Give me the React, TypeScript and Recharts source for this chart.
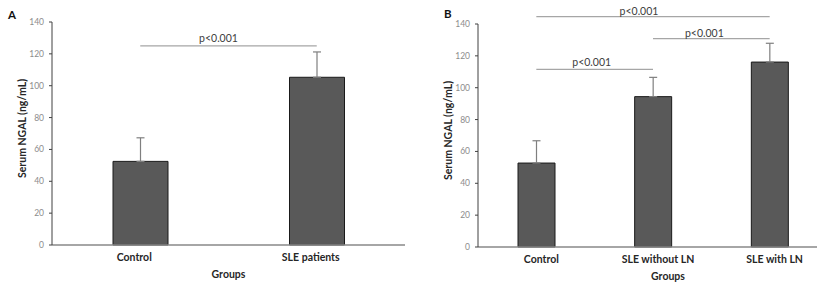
import React from 'react';
import { BarChart, Bar, XAxis, YAxis, ErrorBar, ReferenceLine } from 'recharts';

// ---- Data ----
const groupsA = ['Control', 'SLE patients'];
const meansA = [52.5, 105.3];
const errA = [14.8, 15.9];

const groupsB = ['Control', 'SLE without LN', 'SLE with LN'];
const meansB = [52.7, 94.4, 116.1];
const errB = [14.0, 12.1, 11.8];

const yTicks = [0, 20, 40, 60, 80, 100, 120, 140];

const sigA = [{ from: 'Control', to: 'SLE patients', y: 125, label: 'p<0.001' }];
const sigB = [
  { from: 'Control', to: 'SLE with LN', y: 144.6, label: 'p<0.001' },
  { from: 'SLE without LN', to: 'SLE with LN', y: 130.8, label: 'p<0.001' },
  { from: 'Control', to: 'SLE without LN', y: 111.5, label: 'p<0.001' },
];

const yTitle = 'Serum NGAL (ng/mL)';
const xTitle = 'Groups';

const dataA = groupsA.map((g, i) => ({ group: g, mean: meansA[i], err: [0, errA[i]] }));
const dataB = groupsB.map((g, i) => ({ group: g, mean: meansB[i], err: [0, errB[i]] }));

const FONT = 'Lato, "Liberation Sans", sans-serif';

function YTitle(props: any) {
  const vb = props.viewBox || {};
  const cx = vb.x + 10;
  const cy = vb.y + vb.height / 2 - 5;
  return (
    <text x={cx} y={cy} transform={`rotate(-90 ${cx} ${cy})`} textAnchor="middle" dominantBaseline="central"
      fontFamily={FONT} fontWeight="bold" fontSize={10.5} fill="#262626">{yTitle}</text>
  );
}

function XTitle(props: any) {
  const vb = props.viewBox || {};
  const cx = vb.x + vb.width / 2 + (props.dx || 0);
  const cy = vb.y + 29;
  return (
    <text x={cx} y={cy} textAnchor="middle" dominantBaseline="central"
      fontFamily={FONT} fontWeight="bold" fontSize={10.5} fill="#262626">{xTitle}</text>
  );
}

function PLabel(props: any) {
  const vb = props.viewBox || {};
  const cx = vb.x + vb.width / 2 + (props.shift || 0);
  const cy = vb.y - (props.gap || 6);
  return (
    <text x={cx} y={cy} textAnchor="middle" dominantBaseline="central"
      fontFamily={FONT} fontSize={10.5} fill="#404040">{props.text}</text>
  );
}

const sigStyleA = [{ gap: 8, shift: -10 }];
const sigStyleB = [{ gap: 5.7, shift: -14 }, { gap: 5.4, shift: -7 }, { gap: 7, shift: -3 }];

export default function App() {
  return (
    <div style={{ position: 'absolute', left: 0, top: 0, width: 817, height: 282, overflow: 'hidden', background: '#fff' }}>
      <div style={{ position: 'absolute', left: 8, top: 8, fontFamily: FONT, fontWeight: 'bold', fontSize: 11.5, color: '#111' }}>A</div>
      <div style={{ position: 'absolute', left: 444, top: 7, fontFamily: FONT, fontWeight: 'bold', fontSize: 11.5, color: '#111' }}>B</div>

      <div style={{ position: 'absolute', left: 0, top: 0 }}>
        <BarChart width={410} height={282} data={dataA} margin={{ top: 22, right: 5, bottom: 0, left: 12 }}>
          <XAxis dataKey="group" height={37} tickLine={false} tickSize={0} tickMargin={9}
            axisLine={{ stroke: '#888', strokeWidth: 1.5 }}
            tick={{ fontFamily: FONT, fontWeight: 'bold', fontSize: 10.5, fill: '#262626', dx: -6 }}
            label={<XTitle dx={0} />} />
          <YAxis width={40} domain={[0, 140]} ticks={yTicks} tickSize={3} tickMargin={5}
            axisLine={{ stroke: '#404040' }} tickLine={{ stroke: '#404040' }}
            tick={{ fontFamily: FONT, fontSize: 8.5, fill: '#8c8c8c' }}
            label={<YTitle />} />
          {sigA.map((s, i) => (
            <ReferenceLine key={i} segment={[{ x: s.from, y: s.y }, { x: s.to, y: s.y }]}
              stroke="#a6a6a6" strokeWidth={1.2} ifOverflow="visible"
              label={<PLabel text={s.label} gap={sigStyleA[i].gap} shift={sigStyleA[i].shift} />} />
          ))}
          <Bar dataKey="mean" fill="#595959" stroke="#1a1a1a" strokeWidth={1} barSize={55} isAnimationActive={false}>
            <ErrorBar dataKey="err" width={4} stroke="#7f7f7f" strokeWidth={1.2} />
          </Bar>
        </BarChart>
      </div>

      <div style={{ position: 'absolute', left: 410, top: 0 }}>
        <BarChart width={420} height={282} data={dataB} margin={{ top: 24, right: 2, bottom: 0, left: 28 }}>
          <XAxis dataKey="group" height={35} tickLine={false} tickSize={0} tickMargin={9}
            axisLine={{ stroke: '#888', strokeWidth: 1.5 }}
            tick={{ fontFamily: FONT, fontWeight: 'bold', fontSize: 10.5, fill: '#262626', dx: 5 }}
            label={<XTitle dx={15} />} />
          <YAxis width={40} domain={[0, 140]} ticks={yTicks} tickSize={3} tickMargin={5}
            axisLine={{ stroke: '#404040' }} tickLine={{ stroke: '#404040' }}
            tick={{ fontFamily: FONT, fontSize: 8.5, fill: '#8c8c8c' }}
            label={<YTitle />} />
          {sigB.map((s, i) => (
            <ReferenceLine key={i} segment={[{ x: s.from, y: s.y }, { x: s.to, y: s.y }]}
              stroke="#a6a6a6" strokeWidth={1.2} ifOverflow="visible"
              label={<PLabel text={s.label} gap={sigStyleB[i].gap} shift={sigStyleB[i].shift} />} />
          ))}
          <Bar dataKey="mean" fill="#595959" stroke="#1a1a1a" strokeWidth={1} barSize={37} isAnimationActive={false}>
            <ErrorBar dataKey="err" width={4} stroke="#7f7f7f" strokeWidth={1.2} />
          </Bar>
        </BarChart>
      </div>
    </div>
  );
}
